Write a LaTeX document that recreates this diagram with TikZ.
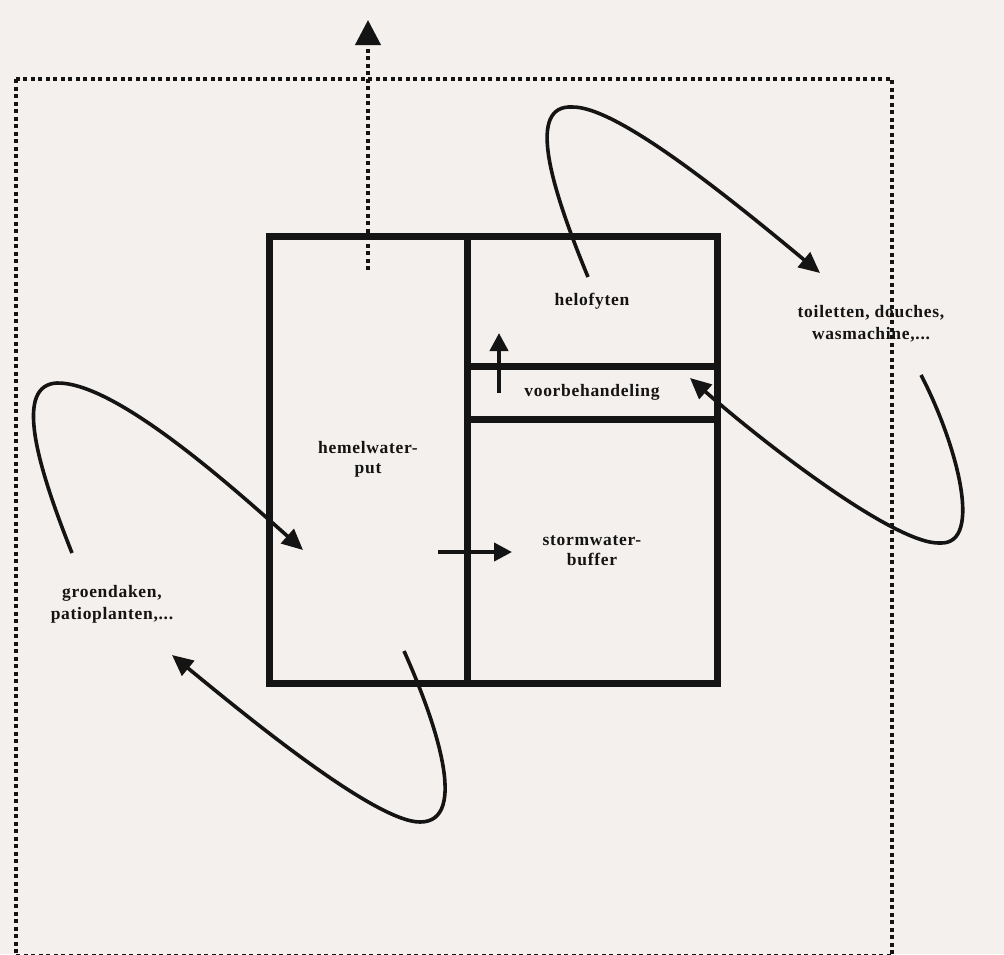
\documentclass[tikz,border=0pt]{standalone}
\usepackage{fontspec}
\setmainfont{Liberation Serif}
\newfontfamily\lblfont[LetterSpace=4]{Liberation Serif}
\usetikzlibrary{arrows.meta}
\definecolor{bg}{HTML}{F4F0ED}
\definecolor{ink}{HTML}{141414}
\tikzset{
  wall/.style={draw=ink,line width=7pt,rectangle,inner sep=0pt,outer sep=0pt,
    font=\lblfont\bfseries\fontsize{17.5}{20}\selectfont,text=ink,align=center},
  lbl/.style={font=\lblfont\bfseries\fontsize{17.5}{22}\selectfont,text=ink,align=center,inner sep=0pt},
  flow/.style={draw=ink,line width=3.6pt,-{Triangle[length=21pt,width=19pt]}},
  small flow/.style={draw=ink,line width=4pt,-{Triangle[length=18pt,width=18pt]}},
  dotline/.style={draw=ink,line width=4pt,dash pattern=on 4pt off 3.5pt},
}
\begin{document}
\begin{tikzpicture}[x=1pt,y=-1pt]
\fill[bg] (0,0) rectangle (1004,954);
\useasboundingbox (0,0) rectangle (1004,954);

% system boundary
\draw[dotline] (16,79) rectangle (892,956);

% boxes
\node[wall,minimum width=198pt,minimum height=447pt] (put) at (368,459.5) {hemelwater-\\put};
\node[wall,minimum width=250pt,minimum height=130pt] (helo) at (592,301) {helofyten};
\node[wall,minimum width=250pt,minimum height=53pt] (voor) at (592,392.5) {voorbehandeling};
\node[wall,minimum width=250pt,minimum height=264pt] (storm) at (592,551) {stormwater-\\buffer};

% outside labels
\node[lbl] (users) at (871,324) {toiletten, douches,\\wasmachine,...};
\node[lbl] (green) at (112,604) {groendaken,\\patioplanten,...};

% overflow arrow
\coordinate (ovs) at (368,270);
\coordinate (ove) at (368,20);
\draw[dotline,-{Triangle[length=25pt,width=25pt]}] (ovs) -- (ove);

% internal arrows
\coordinate (v1) at (499,393);
\coordinate (v2) at (499,333);
\draw[small flow] (v1) -- (v2);
\coordinate (s1) at (438,552);
\coordinate (s2) at (512,552);
\draw[small flow] (s1) -- (s2);

% curve: helofyten -> users
\coordinate (a1) at (588,277);
\coordinate (a2) at (820,273);
\draw[flow] (a1) .. controls (548,180) and (528,105) .. (572,107)
            .. controls (615,106) and (720,190) .. (a2);

% curve: users -> voorbehandeling
\coordinate (b1) at (921,375);
\coordinate (b2) at (690,378);
\draw[flow] (b1) .. controls (955,440) and (985,545) .. (940,543)
            .. controls (895,545) and (760,440) .. (b2);

% curve: green -> put
\coordinate (c1) at (72,553);
\coordinate (c2) at (303,550);
\draw[flow] (c1) .. controls (35,460) and (15,385) .. (57,383)
            .. controls (115,382) and (230,485) .. (c2);

% curve: put -> green
\coordinate (d1) at (404,651);
\coordinate (d2) at (172,655);
\draw[flow] (d1) .. controls (435,720) and (470,822) .. (420,822)
            .. controls (375,822) and (245,715) .. (d2);
\end{tikzpicture}
\end{document}
